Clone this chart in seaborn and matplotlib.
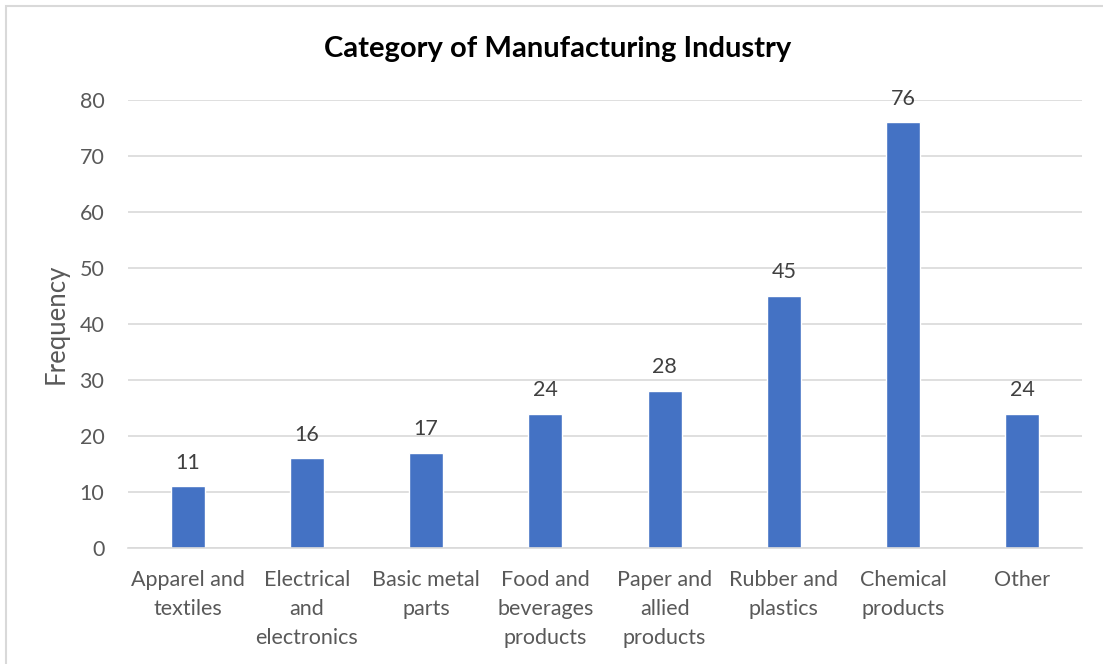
import matplotlib
matplotlib.use("Agg")
import matplotlib.pyplot as plt
import seaborn as sns
import pandas as pd
from matplotlib.patches import Rectangle

categories = ["Apparel and\ntextiles", "Electrical\nand\nelectronics", "Basic metal\nparts",
              "Food and\nbeverages\nproducts", "Paper and\nallied\nproducts", "Rubber and\nplastics",
              "Chemical\nproducts", "Other"]
frequency = [11, 16, 17, 24, 28, 45, 76, 24]
y_ticks = [0, 10, 20, 30, 40, 50, 60, 70, 80]

sns.set_theme(style="white")
plt.rcParams['font.family'] = ['Lato', 'DejaVu Sans']

TXT = "#595959"
GRID = "#d9d9d9"
BAR = "#4472C4"
FS = 15.5

W, H = 1103, 664
fig = plt.figure(figsize=(W / 100, H / 100), dpi=100)
ax = fig.add_axes([128 / W, 1 - 548 / H, (1082 - 128) / W, (548 - 100) / H])

df = pd.DataFrame({"cat": categories, "freq": frequency})
sns.barplot(data=df, x="cat", y="freq", color=BAR, saturation=1, width=0.285, ax=ax)

ax.set_ylim(0, 80)
ax.set_xlim(-0.5, len(categories) - 0.5)
ax.set_yticks(y_ticks)
ax.yaxis.grid(True, color=GRID, linewidth=1.2)
ax.set_axisbelow(True)
for s in ["left", "right", "top"]:
    ax.spines[s].set_visible(False)
ax.spines["bottom"].set_color(GRID)
ax.spines["bottom"].set_linewidth(1.2)
ax.tick_params(axis="y", length=0, pad=17, labelsize=FS, labelcolor=TXT)
ax.tick_params(axis="x", length=0, pad=16, labelsize=FS, labelcolor=TXT)
for lbl in ax.get_xticklabels():
    lbl.set_linespacing(1.55)
    lbl.set_verticalalignment("top")

ax.set_xlabel("")
ax.set_ylabel("Frequency", fontsize=18.5, color=TXT)
ax.yaxis.set_label_coords((69 - 128) / (1082 - 128), (548 - 324) / 448)

for cont in ax.containers:
    ax.bar_label(cont, labels=[str(v) for v in frequency], padding=10, fontsize=FS, color="#404040")

fig.text(558 / W, 1 - 49 / H, "Category of Manufacturing Industry", ha="center", va="center",
         fontsize=21, fontweight="bold", color="black")

fig.patches.append(Rectangle((6 / W, -0.1), 1.2, 1 - 6 / H + 0.1, transform=fig.transFigure,
                             fill=False, edgecolor=GRID, linewidth=1.5))

fig.savefig("out.png", dpi=100)
